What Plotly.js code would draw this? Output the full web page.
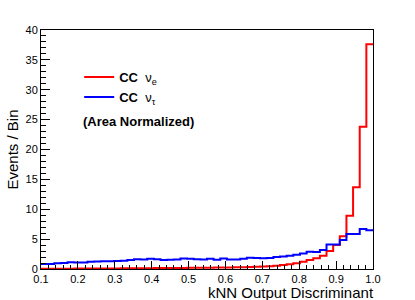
<!DOCTYPE html>
<html>
<head>
<meta charset="utf-8">
<script src="https://cdn.plot.ly/plotly-3.0.1.min.js"></script>
<style>html,body{margin:0;padding:0;background:#fff;}#chart{width:415px;height:300px;}</style>
</head>
<body>
<div id="chart"></div>
<script>
// Histogram binning: 50 bins from 0.1 to 1.0
const binLow = 0.1;
const binHigh = 1.0;
const nBins = 50;

// CC nu_e (red) contents per bin
const nueValues = [
  0.05, 0.05, 0.05, 0.06, 0.06, 0.07, 0.07, 0.08, 0.08, 0.09,
  0.10, 0.10, 0.11, 0.12, 0.12, 0.13, 0.14, 0.15, 0.15, 0.16,
  0.17, 0.18, 0.19, 0.20, 0.21, 0.22, 0.24, 0.25, 0.27, 0.29,
  0.31, 0.34, 0.37, 0.42, 0.48, 0.55, 0.65, 0.80, 0.95, 1.20,
  1.50, 1.80, 2.20, 3.00, 4.00, 5.50, 8.90, 13.7, 23.8, 37.6
];

// CC nu_tau (blue) contents per bin
const nutauValues = [
  0.85, 0.85, 0.95, 1.00, 1.15, 1.10, 1.10, 1.20, 1.25, 1.30,
  1.30, 1.35, 1.40, 1.50, 1.65, 1.60, 1.70, 1.65, 1.50, 1.55,
  1.60, 1.75, 1.70, 1.65, 1.60, 1.70, 1.55, 1.75, 1.60, 1.60,
  1.70, 1.90, 1.85, 1.80, 1.85, 2.00, 2.10, 2.20, 2.40, 2.60,
  2.90, 2.85, 3.20, 4.10, 4.10, 4.85, 5.85, 5.85, 6.70, 6.50
];

const xTickVals = [0.1, 0.2, 0.3, 0.4, 0.5, 0.6, 0.7, 0.8, 0.9, 1.0];
const xTickText = ["0.1", "0.2", "0.3", "0.4", "0.5", "0.6", "0.7", "0.8", "0.9", "1.0"];
const yTickVals = [0, 5, 10, 15, 20, 25, 30, 35, 40];

const seriesNames = ["<b>CC</b>  ν<sub>e</sub>", "<b>CC</b>  ν<sub>τ</sub>"];

function stepXY(values) {
  const w = (binHigh - binLow) / nBins;
  const xs = [], ys = [];
  for (let i = 0; i < values.length; i++) {
    xs.push(binLow + i * w);
    ys.push(values[i]);
  }
  xs.push(binHigh);
  ys.push(values[values.length - 1]);
  return {xs, ys};
}

const a = stepXY(nueValues);
const b = stepXY(nutauValues);

const font = "Liberation Sans, Arial, Helvetica, sans-serif";

const traces = [
  {x: a.xs, y: a.ys, type: 'scatter', mode: 'lines', line: {shape: 'hv', color: '#ff0000', width: 2}, name: seriesNames[0]},
  {x: b.xs, y: b.ys, type: 'scatter', mode: 'lines', line: {shape: 'hv', color: '#0000ff', width: 2}, name: seriesNames[1]}
];

const layout = {
  width: 415, height: 300,
  margin: {l: 41, r: 42, t: 30, b: 31},
  paper_bgcolor: '#fff', plot_bgcolor: '#fff',
  font: {family: font, size: 11, color: '#000'},
  showlegend: true,
  legend: {
    x: 0.115, y: 0.866, xanchor: 'left', yanchor: 'top',
    bgcolor: 'rgba(0,0,0,0)', borderwidth: 0,
    font: {family: font, size: 13, color: '#000'},
    itemwidth: 30, tracegroupgap: 0
  },
  xaxis: {
    range: [binLow, binHigh], tickvals: xTickVals, ticktext: xTickText,
    ticks: 'inside', ticklen: 8, tickwidth: 1, tickcolor: '#000',
    minor: {dtick: 0.02, tick0: 0.1, ticks: 'inside', ticklen: 4, tickcolor: '#000', showgrid: false},
    showgrid: false, zeroline: false,
    showline: true, linecolor: '#000', linewidth: 1, mirror: true,
    tickfont: {family: font, size: 11, color: '#000'}
  },
  yaxis: {
    range: [0, 40], tickvals: yTickVals,
    ticks: 'inside', ticklen: 9, tickwidth: 1, tickcolor: '#000',
    minor: {dtick: 1, ticks: 'inside', ticklen: 5, tickcolor: '#000', showgrid: false},
    showgrid: false, zeroline: false,
    showline: true, linecolor: '#000', linewidth: 1, mirror: true,
    tickfont: {family: font, size: 11, color: '#000'},
    title: {text: 'Events / Bin', font: {family: font, size: 15, color: '#000'}, standoff: 3}
  },
  annotations: [
    {xref: 'paper', yref: 'paper', x: 1.005, y: -0.099, xanchor: 'right', yanchor: 'middle',
     text: 'kNN Output Discriminant', showarrow: false, borderpad: 0,
     font: {family: font, size: 15, color: '#000'}},
    {xref: 'paper', yref: 'paper', x: 0.12, y: 0.618, xanchor: 'left', yanchor: 'middle',
     text: '<b>(Area Normalized)</b>', showarrow: false,
     font: {family: font, size: 13, color: '#000'}}
  ]
};

Plotly.newPlot('chart', traces, layout, {displayModeBar: false, staticPlot: true});
</script>
</body>
</html>
